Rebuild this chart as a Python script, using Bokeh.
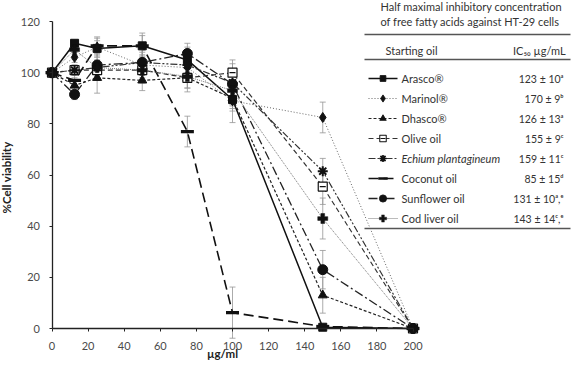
import math
from bokeh.plotting import figure
from bokeh.models import ColumnDataSource, Range1d, FixedTicker, Whisker, TeeHead
from bokeh.embed import file_html
from bokeh.resources import INLINE
from bokeh.core.properties import value

# ---------------- data ----------------
conc = [0, 12.5, 25, 50, 75, 100, 150, 200]

arasco    = [100, 111.5, 109.5, 110.5, 105.0, 89.5, 0.5, 0]
marinol   = [100, 106.0, 110.0, 103.0, 102.0, 89.0, 82.5, 0]
dhasco    = [100, 95.0, 98.0, 97.0, 98.0, 90.0, 13.0, 0]
olive     = [100, 101.0, 101.0, 101.0, 98.0, 100.0, 55.5, 0]
echium    = [100, 101.0, 102.0, 104.0, 103.0, 96.0, 61.5, 0]
coconut   = [100, 97.0, 110.5, 110.5, 77.0, 6.2, 0.8, 0]
sunflower = [100, 91.5, 103.0, 104.0, 107.5, 95.5, 23.0, 0]
codliver  = [100, 109.0, 102.0, 101.0, 98.5, 93.0, 43.0, 0]

arasco_err    = [0, 1, 3, 5, 5, 9, 0, 0]
marinol_err   = [0, 2, 4, 4, 5, 4, 6, 0]
dhasco_err    = [0, 3, 6, 4, 4, 4, 7, 0]
olive_err     = [0, 2, 3, 3, 4, 5, 7, 0]
echium_err    = [0, 2, 3, 4, 4, 5, 5, 0]
coconut_err   = [0, 2, 3, 4, 6, 10, 0, 0]
sunflower_err = [0, 2, 5, 5, 4, 8, 7.5, 0]
codliver_err  = [0, 2, 5, 5, 6, 6, 8, 0]

oil_names = ["Arasco®", "Marinol®", "Dhasco®", "Olive oil",
             "Echium plantagineum", "Coconut oil", "Sunflower oil", "Cod liver oil"]
ic50_labels = ["123 ± 10ᵃ", "170 ± 9ᵇ", "126 ± 13ᵃ", "155 ± 9ᶜ",
               "159 ± 11ᶜ", "85 ± 15ᵈ", "131 ± 10ᵃ,ᵉ", "143 ± 14ᶜ,ᵉ"]
table_title = ["Half maximal inhibitory concentration",
               "of free fatty acids against HT-29 cells"]
col_headers = ["Starting oil", "IC₅₀  µg/mL"]

x_ticks = [0, 20, 40, 60, 80, 100, 120, 140, 160, 180, 200]
y_ticks = [0, 20, 40, 60, 80, 100, 120]
x_label = "µg/ml"
y_label = "%Cell viability"

series_vals = [arasco, marinol, dhasco, olive, echium, coconut, sunflower, codliver]
series_err = [arasco_err, marinol_err, dhasco_err, olive_err, echium_err,
              coconut_err, sunflower_err, codliver_err]

# styles: (line_color, line_width, dash, marker, size, marker_line_width, fill)
styles = [
    ("#111111", 1.5, "solid",        "square",   8,  1.0, "#111111"),
    ("#666666", 1.0, "1 2",          "diamond",  10, 1.0, "#111111"),
    ("#222222", 1.2, "3 2",          "triangle", 9,  1.0, "#111111"),
    ("#333333", 1.2, "5 3",          "square",   9,  1.2, "white"),
    ("#333333", 1.2, "7 2 2 2 2 2",  "asterisk", 10, 2.0, "#111111"),
    ("#111111", 1.6, "10 5",         "dash",     13, 3.2, "#111111"),
    ("#222222", 1.3, "9 3 2 3",      "circle",   10, 1.0, "#111111"),
    ("#777777", 1.0, "1 1",          "plus",     10, 0.5, "#111111"),
]

# ---------------- geometry (canvas px -> data) ----------------
W, H = 571, 360
X0PX, XSCALE = 51.5, 1.805
Y0PX, YSCALE = 328.0, 2.558


def dx(px):
    return (px - X0PX) / XSCALE


def dy(py):
    return (Y0PX - py) / YSCALE


p = figure(width=W, height=H, x_range=Range1d(dx(0), dx(W)), y_range=Range1d(dy(H), dy(0)),
           output_backend="svg", toolbar_location=None, min_border=0)
p.min_border_left = 0
p.min_border_right = 0
p.min_border_top = 0
p.min_border_bottom = 0
p.outline_line_color = None
p.grid.visible = False
p.background_fill_color = "white"

for ax, ticks, bounds in ((p.xaxis, x_ticks, (0, 200)), (p.yaxis, y_ticks, (0, 120))):
    ax.fixed_location = 0
    ax.bounds = bounds
    ax.ticker = FixedTicker(ticks=ticks)
    ax.minor_tick_line_color = None
    ax.major_tick_in = 0
    ax.major_tick_out = 3
    ax.axis_line_width = 1.3
    ax.axis_line_color = "#222222"
    ax.major_tick_line_color = "#222222"
    ax.major_label_text_font = "Lato"
    ax.major_label_text_font_size = "11px"
    ax.major_label_text_color = "#4a4a4a"
p.xaxis.major_label_standoff = 10
p.yaxis.major_label_standoff = 9

# error bars
for vals, errs in zip(series_vals, series_err):
    xs = [c for c, e in zip(conc, errs) if e > 0]
    ups = [v + e for v, e in zip(vals, errs) if e > 0]
    los = [v - e for v, e in zip(vals, errs) if e > 0]
    src = ColumnDataSource(dict(x=xs, upper=ups, lower=los))
    w = Whisker(base="x", upper="upper", lower="lower", source=src, dimension="height",
                line_color="#959595", line_width=0.8,
                upper_head=TeeHead(size=6, line_color="#959595", line_width=0.8),
                lower_head=TeeHead(size=6, line_color="#959595", line_width=0.8))
    p.add_layout(w)

# lines and markers
for vals, st in zip(series_vals, styles):
    lc, lw, dash, mk, sz, mlw, fill = st
    p.line(conc, vals, line_color=lc, line_width=lw, line_dash=dash)
for i, (vals, st) in enumerate(zip(series_vals, styles)):
    lc, lw, dash, mk, sz, mlw, fill = st
    p.scatter(conc, vals, marker=mk, size=sz, fill_color=fill, line_color="#111111",
              line_width=mlw)
    if i == 3:
        p.scatter(conc, vals, marker="dash", size=6, line_color="#111111", line_width=1.3)

# axis titles
p.text(x=[dx(6)], y=[dy(177)], text=[y_label], angle=math.pi / 2, text_font=value("Lato"),
       text_font_size="11.5px", text_font_style="bold", text_align="center",
       text_baseline="middle", text_color="#222222")
p.text(x=[dx(222)], y=[dy(353)], text=[x_label], text_font=value("Lato"),
       text_font_size="11.5px", text_font_style="bold", text_align="center",
       text_baseline="middle", text_color="#222222")

# ---------------- table / legend ----------------
TF = value("Lato")
p.text(x=[dx(380), dx(380)], y=[dy(6), dy(21)], text=table_title, text_font=TF,
       text_font_size="11px", text_baseline="middle", text_color="#333333")
p.text(x=[dx(385)], y=[dy(50)], text=[col_headers[0]], text_font=TF,
       text_font_size="11px", text_baseline="middle", text_color="#333333")
p.text(x=[dx(568)], y=[dy(50)], text=[col_headers[1]], text_font=TF, text_align="right",
       text_font_size="11px", text_baseline="middle", text_color="#333333")
for ry in (34, 59, 228):
    p.segment(x0=[dx(364)], y0=[dy(ry)], x1=[dx(570)], y1=[dy(ry)],
              line_color="#555555", line_width=1.4)

for i, st in enumerate(styles):
    lc, lw, dash, mk, sz, mlw, fill = st
    ry = dy(78 + 20 * i)
    p.segment(x0=[dx(368)], y0=[ry], x1=[dx(397)], y1=[ry], line_color=lc,
              line_width=lw, line_dash=dash)
    p.scatter([dx(382.5)], [ry], marker=mk, size=sz * 0.72, fill_color=fill,
              line_color="#111111", line_width=mlw * 0.85)
    if i == 3:
        p.scatter([dx(382.5)], [ry], marker="dash", size=5, line_color="#111111",
                  line_width=1.1)
    p.text(x=[dx(401)], y=[ry], text=[oil_names[i]], text_font=TF, text_font_size="11px",
           text_font_style="italic" if i == 4 else "normal", text_baseline="middle",
           text_color="#333333")
    p.text(x=[dx(563)], y=[ry], text=[ic50_labels[i]], text_font=TF, text_font_size="10.5px",
           text_align="right", text_baseline="middle", text_color="#333333")

open("out.html", "w").write(file_html(p, INLINE))
